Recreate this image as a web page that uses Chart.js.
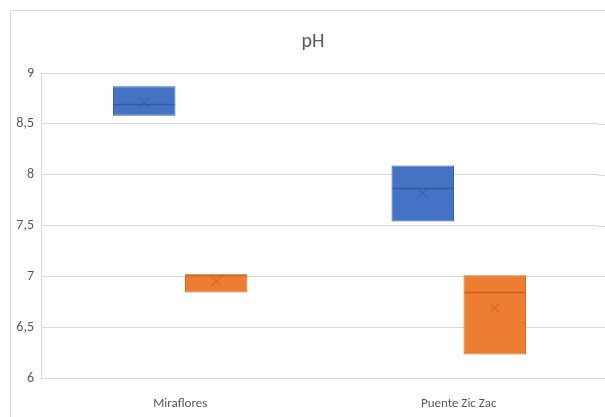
<!DOCTYPE html>
<html>
<head>
<meta charset="utf-8">
<script src="https://cdn.jsdelivr.net/npm/chart.js@4"></script>
<style>
  html, body { margin: 0; padding: 0; background: #fff; }
  body { width: 605px; height: 417px; overflow: hidden; position: relative; }
  #frame { position: absolute; left: 10px; top: 10px; width: 700px; height: 500px; border: 1px solid #d9d9d9; box-sizing: border-box; }
  #wrap { position: absolute; left: 0; top: 0; width: 605px; height: 417px; }
</style>
</head>
<body>
<div id="frame"></div>
<div id="wrap"><canvas id="c" width="605" height="417"></canvas></div>
<script>
// Sampling sites
const categories = ['Miraflores', 'Puente Zic Zac'];

// Series 1 (blue) box statistics
const s1Q1 = [8.58, 7.54];
const s1Q3 = [8.87, 8.09];
const s1Median = [8.70, 7.87];
const s1Mean = [8.71, 7.82];

// Series 2 (orange) box statistics
const s2Q1 = [6.84, 6.23];
const s2Q3 = [7.02, 7.01];
const s2Median = [7.01, 6.85];
const s2Mean = [6.95, 6.69];

// Y axis ticks
const yTicks = [6, 6.5, 7, 7.5, 8, 8.5, 9];

const chartTitle = 'pH';

const medians = [s1Median, s2Median];
const means = [s1Mean, s2Mean];
const markColors = ['#2f5597', '#b85a1c'];
const gridColor = '#d9d9d9';
const textColor = '#595959';
const font = "Carlito, 'DejaVu Sans Condensed', sans-serif";

// Title, plus horizontal gridlines carried through to the right edge
const decorations = {
  id: 'decorations',
  beforeDatasetsDraw(chart) {
    const ctx = chart.ctx;
    const y = chart.scales.y;
    ctx.save();
    ctx.strokeStyle = gridColor;
    ctx.lineWidth = 1;
    yTicks.forEach(v => {
      const py = Math.round(y.getPixelForValue(v)) + 0.5;
      ctx.beginPath();
      ctx.moveTo(chart.chartArea.right, py);
      ctx.lineTo(chart.width, py);
      ctx.stroke();
    });
    ctx.fillStyle = textColor;
    ctx.font = '20px ' + font;
    ctx.textAlign = 'center';
    ctx.textBaseline = 'alphabetic';
    ctx.fillText(chartTitle, 313, 47);
    ctx.restore();
  }
};

// Median line and mean cross inside each box
const boxMarks = {
  id: 'boxMarks',
  afterDatasetsDraw(chart) {
    const ctx = chart.ctx;
    const y = chart.scales.y;
    chart.data.datasets.forEach((ds, i) => {
      const meta = chart.getDatasetMeta(i);
      meta.data.forEach((bar, j) => {
        const half = bar.width / 2;
        ctx.save();
        ctx.strokeStyle = markColors[i];
        ctx.globalAlpha = 0.75;
        ctx.lineWidth = 1.5;
        const my = Math.round(y.getPixelForValue(medians[i][j])) + 0.5;
        ctx.beginPath();
        ctx.moveTo(bar.x - half + 1, my);
        ctx.lineTo(bar.x + half - 1, my);
        ctx.stroke();
        const ay = y.getPixelForValue(means[i][j]);
        const r = 5;
        ctx.lineWidth = 1.2;
        ctx.globalAlpha = 0.5;
        ctx.beginPath();
        ctx.moveTo(bar.x - r, ay - r); ctx.lineTo(bar.x + r, ay + r);
        ctx.moveTo(bar.x + r, ay - r); ctx.lineTo(bar.x - r, ay + r);
        ctx.stroke();
        ctx.restore();
      });
    });
  }
};

new Chart(document.getElementById('c'), {
  type: 'bar',
  data: {
    labels: categories,
    datasets: [
      {
        label: 'Serie 1',
        data: s1Q1.map((v, k) => [v, s1Q3[k]]),
        backgroundColor: '#4472c4',
        borderColor: '#3a62ad',
        borderWidth: 1,
        borderSkipped: false
      },
      {
        label: 'Serie 2',
        data: s2Q1.map((v, k) => [v, s2Q3[k]]),
        backgroundColor: '#ed7d31',
        borderColor: '#d06a25',
        borderWidth: 1,
        borderSkipped: false
      }
    ]
  },
  options: {
    responsive: false,
    animation: false,
    events: [],
    categoryPercentage: 0.517,
    barPercentage: 0.868,
    layout: { padding: { left: 0, right: 7, top: 73, bottom: 0 } },
    plugins: {
      legend: { display: false },
      tooltip: { enabled: false },
      title: { display: false }
    },
    scales: {
      x: {
        grid: { display: false, drawTicks: false },
        border: { display: true, color: gridColor },
        ticks: { color: textColor, font: { family: font, size: 13 }, padding: 18 },
        afterFit(scale) { scale.height = 39; }
      },
      y: {
        min: 6,
        max: 9,
        afterBuildTicks(scale) { scale.ticks = yTicks.map(v => ({ value: v })); },
        grid: { color: gridColor, drawTicks: false },
        border: { display: true, color: gridColor },
        ticks: {
          color: textColor,
          font: { family: font, size: 14 },
          padding: 7,
          callback: v => String(v).replace('.', ',')
        },
        afterFit(scale) { scale.width = 41; }
      }
    }
  },
  plugins: [decorations, boxMarks]
});
</script>
</body>
</html>
